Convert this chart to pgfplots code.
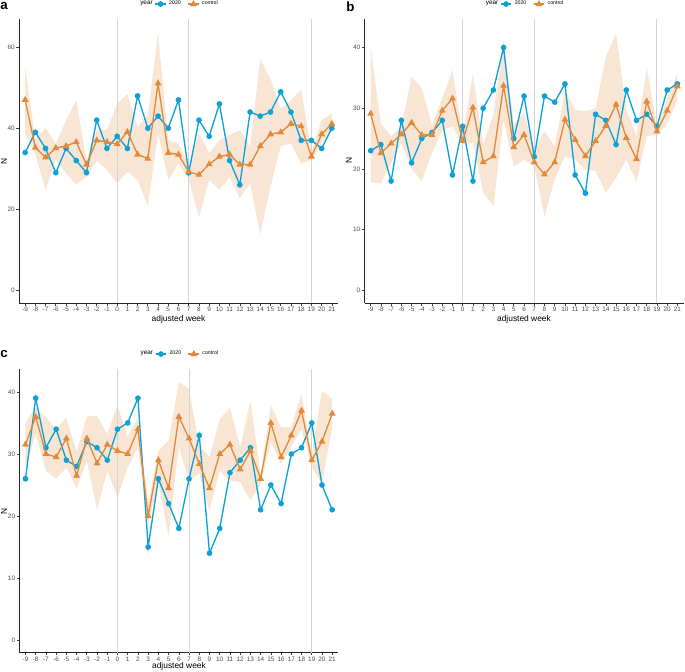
\documentclass[border=0pt]{standalone}
\usepackage{pgfplots}
\pgfplotsset{compat=1.18}
\usepackage{pgfplotstable}
\usepgfplotslibrary{fillbetween}
\usepackage{fontspec}
\setmainfont{Liberation Sans}
\definecolor{cblue}{RGB}{14,161,216}
\definecolor{corange}{RGB}{226,137,58}
\definecolor{vgrey}{RGB}{212,212,212}
\definecolor{tickgrey}{RGB}{77,77,77}

\pgfplotstableread{
week blue orange lo hi
-9 34 47.0 38.7 55.1
-8 39 35.2 33.5 37.3
-7 35 32.8 24.8 40.0
-6 29 35.1 32.1 36.2
-5 35 35.6 28.9 42.0
-4 32 36.6 26.0 46.9
-3 29 31.0 28.0 32.1
-2 42 37.0 32.0 39.5
-1 35 36.6 29.7 39.5
0 38 36.1 26.4 46.0
1 35 39.1 29.3 48.5
2 48 33.5 27.2 40.3
3 40 32.5 20.7 43.2
4 43 51.1 38.7 63.7
5 40 33.9 27.2 37.0
6 47 33.5 31.3 36.2
7 29 29.2 27.5 31.0
8 42 28.5 17.9 38.7
9 38 31.1 27.2 33.8
10 46 33.0 24.8 37.0
11 32 33.5 28.0 38.3
12 26 31.0 22.7 39.5
13 44 31.0 26.4 35.5
14 43 35.6 13.8 57.1
15 44 38.5 25.5 52.2
16 49 39.0 35.6 44.8
17 44 41.1 36.2 46.9
18 37 40.5 31.3 49.5
19 37 33.0 32.1 34.2
20 35 38.5 36.2 42.0
21 40 41.1 39.5 43.6
}\tA

\pgfplotstableread{
week blue orange lo hi
-9 23 29.1 17.8 40.1
-8 24 22.6 17.6 27.5
-7 18 24.2 21.0 25.4
-6 28 25.7 24.3 27.0
-5 21 27.6 20.0 35.2
-4 25 25.6 18.0 33.3
-3 26 25.6 22.6 27.3
-2 28 29.6 26.4 31.6
-1 19 31.6 27.0 36.3
0 27 24.6 24.0 25.4
1 18 30.1 24.3 35.7
2 30 21.1 16.1 24.0
3 33 22.1 13.9 28.9
4 40 33.7 28.1 41.2
5 25 23.6 20.4 27.3
6 32 25.6 21.5 29.2
7 22 21.1 20.4 23.2
8 32 19.1 12.2 26.2
9 31 21.1 18.3 23.7
10 34 28.1 22.1 33.0
11 19 24.8 21.5 29.7
12 16 22.1 19.9 29.5
13 29 24.6 19.6 30.0
14 28 27.1 16.1 38.5
15 24 30.6 18.5 42.3
16 33 25.1 21.5 29.7
17 28 21.6 17.9 25.4
18 29 31.1 25.4 36.6
19 27 26.2 25.6 27.0
20 33 29.6 27.5 31.5
21 34 33.6 31.4 35.7
}\tB

\pgfplotstableread{
week blue orange lo hi
-9 26 31.5 27.8 35.1
-8 39 36.0 33.2 37.5
-7 31 30.0 27.3 35.9
-6 34 29.5 26.0 34.0
-5 29 32.5 27.8 35.9
-4 28 26.5 24.4 30.3
-3 32 32.5 28.9 36.0
-2 31 28.5 20.9 36.2
-1 29 31.5 27.3 33.2
0 34 30.5 23.0 37.8
1 35 30.0 27.8 32.7
2 39 34.0 31.1 35.9
3 15 20.0 18.7 21.9
4 26 29.0 25.2 30.5
5 22 24.5 16.8 32.2
6 18 36.0 31.1 41.6
7 26 32.5 25.7 40.5
8 33 28.4 26.8 31.3
9 14 24.5 20.9 29.5
10 18 30.0 27.3 35.6
11 27 31.5 25.7 37.5
12 29 27.5 25.5 31.1
13 31 30.5 22.5 38.6
14 21 26.0 25.2 26.8
15 25 35.0 31.9 37.8
16 22 29.5 28.4 34.3
17 30 33.0 31.1 34.3
18 31 37.0 34.0 39.7
19 35 29.0 27.8 30.0
20 25 32.0 25.2 40.2
21 21 36.5 34.3 38.9
}\tC

\pgfplotsset{
  panel/.style={
    anchor=south west,
    scale only axis,
    width=239.25pt,
    xmin=-9.6, xmax=21.6,
    clip mode=individual,
    axis lines*=left,
    axis line style={-, line width=0.6pt, black!85},
    tick align=outside,
    major tick length=2pt,
    tick style={line width=0.5pt, black!75},
    xtick={-9,...,21},
    xtick pos=bottom, ytick pos=left,
    /pgf/number format/assume math mode=true,
    tick label style={font=\fontsize{4.8}{5}\selectfont, text=tickgrey},
    xticklabel style={inner sep=1pt},
    yticklabel style={inner sep=1pt},
    legend columns=-1,
    legend style={draw=none, fill=none, at={(0.5,1)}, anchor=center, xshift=6.75pt, yshift=11.2pt,
      font=\fontsize{3.9}{4.5}\selectfont, inner sep=0pt,
      /tikz/every even column/.append style={column sep=3pt}},
    legend cell align=left,
  },
  blueline/.style={cblue, line width=1pt, mark=*, mark size=1.6pt, mark options={solid}},
  orangeline/.style={corange, line width=1pt, mark=triangle*, mark size=2pt, mark options={solid}},
  vline/.style={vgrey, line width=0.8pt, forget plot},
}
\pgfplotsset{
  smalllegend/.style={legend image code/.code={\draw[mark repeat=2,mark phase=2,##1] plot coordinates {(0pt,0pt) (4pt,0pt) (8pt,0pt)};}},
}

\newcommand{\drawpanel}[4]{%
  \addplot[vline] coordinates {(0,#2) (0,#3)};
  \addplot[vline] coordinates {(7,#2) (7,#3)};
  \addplot[vline] coordinates {(19,#2) (19,#3)};
  \addplot[name path=hi#4, draw=none, forget plot] table[x=week,y=hi] {#1};
  \addplot[name path=lo#4, draw=none, forget plot] table[x=week,y=lo] {#1};
  \addplot[fill=corange, fill opacity=0.22, draw=none, forget plot] fill between[of=hi#4 and lo#4];
  \addplot[blueline, smalllegend] table[x=week,y=blue] {#1};
  \addlegendentry{2020}
  \addplot[orangeline, smalllegend] table[x=week,y=orange] {#1};
  \addlegendentry{control}
  \node[font=\fontsize{4.8}{5}\selectfont, inner sep=0pt] at (rel axis cs:0.5,1) [xshift=-24pt, yshift=11.4pt] {year};
}

\begin{document}
\begin{tikzpicture}

\begin{axis}[panel, at={(14.25pt,276pt)}, height=213pt,
  ymin=-3.2, ymax=67, ytick={0,20,40,60}]
\drawpanel{\tA}{-3.2}{67}{A}
\end{axis}

\begin{axis}[panel, at={(273.4pt,275.8pt)}, height=213.2pt,
  ymin=-2.14, ymax=44.7, ytick={0,10,20,30,40}]
\drawpanel{\tB}{-2.14}{44.7}{B}
\end{axis}

\begin{axis}[panel, at={(14.5pt,13.7pt)}, height=212.8pt,
  ymin=-2.05, ymax=43.7, ytick={0,10,20,30,40}]
\drawpanel{\tC}{-2.05}{43.7}{C}
\end{axis}

\node[font=\fontsize{6.3}{7}\selectfont] at (133.9pt,264pt) {adjusted week};
\node[font=\fontsize{6.3}{7}\selectfont] at (393pt,264pt) {adjusted week};
\node[font=\fontsize{6.3}{7}\selectfont] at (134.25pt,3.5pt) {adjusted week};
\node[font=\fontsize{6.3}{7}\selectfont, rotate=90] at (3pt,382.5pt) {N};
\node[font=\fontsize{6.3}{7}\selectfont, rotate=90] at (261.75pt,383.25pt) {N};
\node[font=\fontsize{6.3}{7}\selectfont, rotate=90] at (3pt,120pt) {N};
\node[font=\bfseries\fontsize{10}{11}\selectfont, anchor=north west, inner sep=0pt] at (0pt,502pt) {a};
\node[font=\bfseries\fontsize{10}{11}\selectfont, anchor=north west, inner sep=0pt] at (259.5pt,502pt) {b};
\node[font=\bfseries\fontsize{10}{11}\selectfont, anchor=north west, inner sep=0pt] at (0pt,241pt) {c};

\pgfresetboundingbox
\path[use as bounding box] (0pt,0pt) rectangle (513.75pt,503.25pt);
\end{tikzpicture}
\end{document}
